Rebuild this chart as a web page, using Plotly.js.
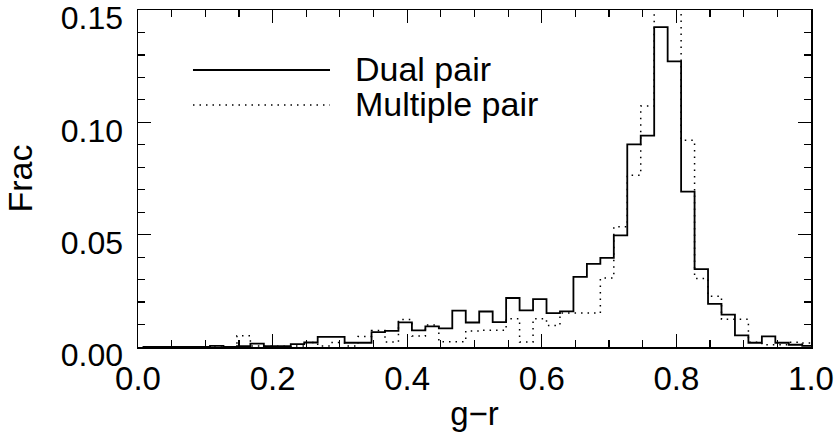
<!DOCTYPE html>
<html>
<head>
<meta charset="utf-8">
<script src="https://cdn.plot.ly/plotly-3.0.1.min.js"></script>
<style>html,body{margin:0;padding:0;background:#fff;}#chart{width:836px;height:436px;}</style>
</head>
<body>
<div id="chart"></div>
<script>
// Left edges of the g-r bins (bin width 0.02); the last entry closes the final bin
var binEdges = [0.007,0.027,0.047,0.067,0.087,0.107,0.127,0.147,0.167,0.187,
                0.207,0.227,0.247,0.267,0.287,0.307,0.327,0.347,0.367,0.387,
                0.407,0.427,0.447,0.467,0.487,0.507,0.527,0.547,0.567,0.587,
                0.607,0.627,0.647,0.667,0.687,0.707,0.727,0.747,0.767,0.787,
                0.807,0.827,0.847,0.867,0.887,0.907,0.927,0.947,0.967,0.987,1.007];

var dualPair = [0,0,0,0,0,0.0005,0,0.0004,0.0015,0.0004,
                0.0004,0.0013,0.002,0.0045,0.0045,0.0019,0.0019,0.0066,0.0072,0.011,
                0.0074,0.0092,0.0083,0.0162,0.0109,0.0158,0.0111,0.0218,0.0163,0.0213,
                0.0151,0.0159,0.0312,0.037,0.0397,0.0497,0.0902,0.0941,0.1424,0.1271,
                0.0692,0.0347,0.0192,0.0144,0.0052,0.0019,0.0047,0.0019,0.001,0.0005];

var multiplePair = [0,0,0,0,0,0,0,0.005,0.0005,0.0003,
                    0.0003,0.0005,0.002,0.0005,0.002,0.0005,0.0047,0.0073,0.0022,0.0122,
                    0.0049,0.0098,0.0023,0.0023,0.0071,0.0074,0.0074,0.0126,0.0022,0.0126,
                    0.0096,0.0151,0.0151,0.0151,0.0307,0.0535,0.0765,0.1073,0.165,0.158,
                    0.092,0.0305,0.0226,0.0123,0.0123,0.0021,0.001,0.001,0.0021,0.0018];

var yTickVals = [0, 0.05, 0.10, 0.15];
var yTickText = ['0.00', '0.05', '0.10', '0.15'];
var xTickVals = [0, 0.2, 0.4, 0.6, 0.8, 1.0];
var xTickText = ['0.0', '0.2', '0.4', '0.6', '0.8', '1.0'];

var seriesNames = ['Dual pair', 'Multiple pair'];
var xTitle = 'g\u2212r';
var yTitle = 'Frac';

function stepY(vals){ return vals.concat([vals[vals.length-1]]); }

var FONT = 'Liberation Sans, Arial, Helvetica, sans-serif';

var traces = [
  {x: binEdges, y: stepY(dualPair), type: 'scatter', mode: 'lines', name: seriesNames[0],
   line: {shape: 'hv', color: '#000', width: 1.8}, showlegend: false},
  {x: binEdges, y: stepY(multiplePair), type: 'scatter', mode: 'lines', name: seriesNames[1],
   line: {shape: 'hv', color: '#000', width: 1.5, dash: '1.5px,5px'}, showlegend: false}
];

var axisCommon = {
  showgrid: false, zeroline: false, showline: true, linecolor: '#000', linewidth: 1.5,
  mirror: 'ticks', ticks: 'inside', ticklen: 13, tickwidth: 1.2, tickcolor: '#000',
  tickfont: {family: FONT, size: 33, color: '#000'}, ticklabeloverflow: 'allow'
};

var layout = {
  width: 836, height: 436,
  margin: {l: 138, r: 25, t: 10, b: 89, pad: 0},
  paper_bgcolor: '#fff', plot_bgcolor: '#fff',
  font: {family: FONT, color: '#000'},
  xaxis: Object.assign({}, axisCommon, {
    range: [0, 1], tickmode: 'array', tickvals: xTickVals, ticktext: xTickText,
    minor: {dtick: 0.05, tick0: 0, ticks: 'inside', ticklen: 7, tickcolor: '#000', tickwidth: 1.2},
    ticklabelstandoff: 2,
    title: {text: xTitle, font: {family: FONT, size: 33, color: '#000'}, standoff: 6}
  }),
  yaxis: Object.assign({}, axisCommon, {
    range: [0, 0.15], tickmode: 'array', tickvals: yTickVals, ticktext: yTickText,
    minor: {dtick: 0.01, tick0: 0, ticks: 'inside', ticklen: 7, tickcolor: '#000', tickwidth: 1.2},
    tickfont: {family: FONT, size: 32, color: '#000'},
    ticklabelstandoff: 7, ticklabelshift: 8,
    title: {text: yTitle, font: {family: FONT, size: 34, color: '#000'}, standoff: 18}
  }),
  shapes: [
    {type: 'line', xref: 'paper', yref: 'paper', x0: 0.0817, x1: 0.2853, y0: 0.822, y1: 0.822,
     line: {color: '#000', width: 1.8}},
    {type: 'line', xref: 'paper', yref: 'paper', x0: 0.0817, x1: 0.2853, y0: 0.718, y1: 0.718,
     line: {color: '#000', width: 1.5, dash: '1.5px,5px'}}
  ],
  annotations: [
    {xref: 'paper', yref: 'paper', x: 0.3195, y: 0.825, xanchor: 'left', yanchor: 'middle',
     text: seriesNames[0], showarrow: false, font: {family: FONT, size: 34, color: '#000'}},
    {xref: 'paper', yref: 'paper', x: 0.3195, y: 0.722, xanchor: 'left', yanchor: 'middle',
     text: seriesNames[1], showarrow: false, font: {family: FONT, size: 34, color: '#000'}}
  ]
};

Plotly.newPlot('chart', traces, layout, {staticPlot: true, displayModeBar: false});
</script>
</body>
</html>
